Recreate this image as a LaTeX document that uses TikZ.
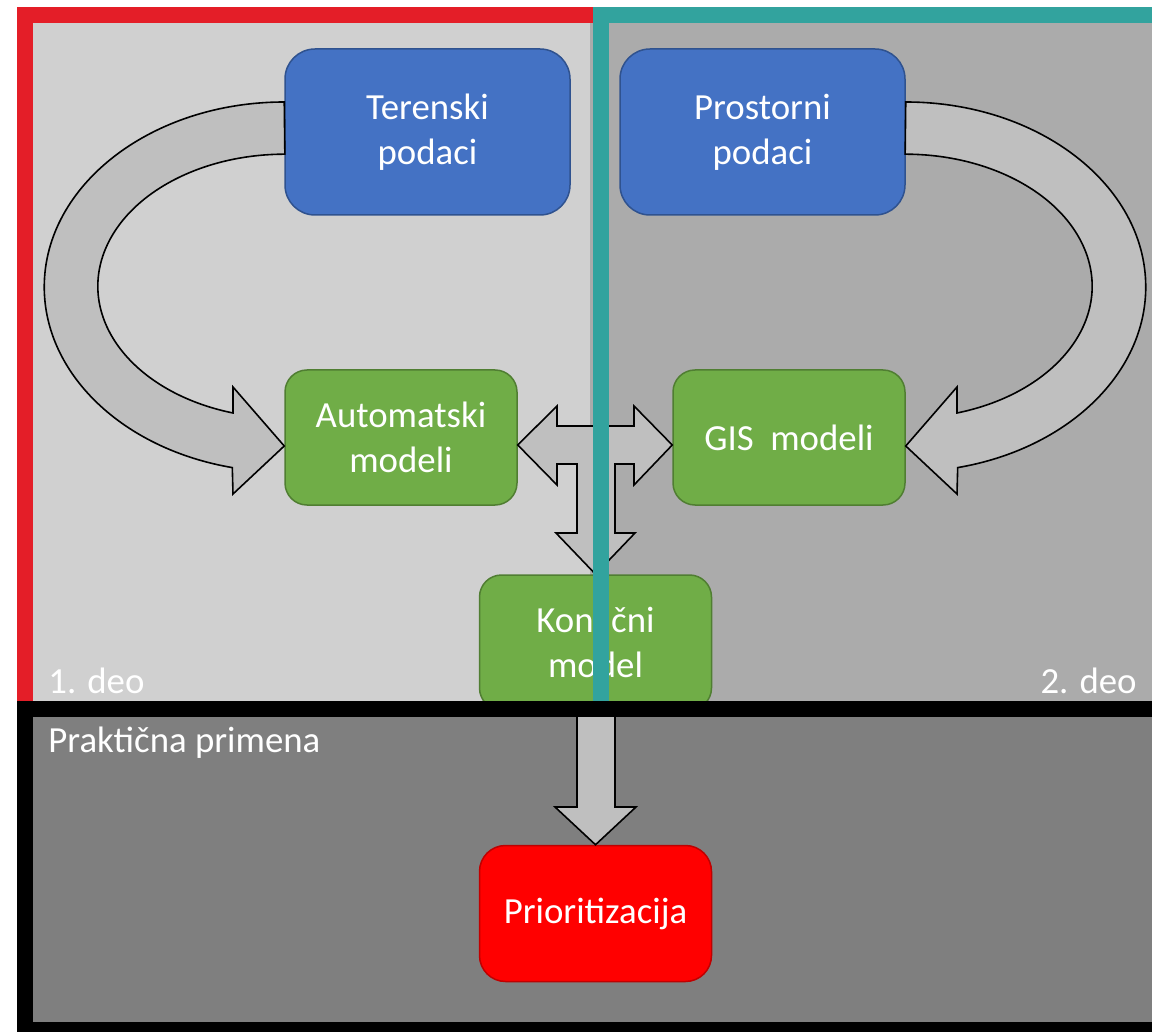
\documentclass[tikz,border=0pt]{standalone}
\usepackage{fontspec}
\setmainfont{Carlito}
\definecolor{panelA}{RGB}{208,208,208}
\definecolor{panelB}{RGB}{171,171,171}
\definecolor{panelC}{RGB}{127,127,127}
\definecolor{arrowgray}{RGB}{191,191,191}
\definecolor{frameRed}{RGB}{228,30,40}
\definecolor{frameTeal}{RGB}{50,163,158}
\definecolor{boxBlue}{RGB}{68,114,196}
\definecolor{boxBlueLine}{RGB}{47,82,143}
\definecolor{boxGreen}{RGB}{112,173,71}
\definecolor{boxGreenLine}{RGB}{80,126,50}
\definecolor{boxRedLine}{RGB}{192,0,0}
\tikzset{
  modelbox/.style={rounded corners=11pt,draw,line width=0.75pt,text=white,align=center,
    font=\fontsize{18.4}{22.5}\selectfont,inner sep=0pt},
  bluebox/.style={modelbox,rounded corners=15pt,fill=boxBlue,draw=boxBlueLine,
    minimum width=142.5pt,minimum height=83pt},
  greenbox/.style={modelbox,fill=boxGreen,draw=boxGreenLine,minimum width=116pt,minimum height=67.5pt},
  redbox/.style={modelbox,rounded corners=13pt,fill=red,draw=boxRedLine,minimum width=116pt,minimum height=68pt},
  blockarrow/.style={fill=arrowgray,draw=black,line width=0.8pt,line join=miter},
  frame/.style={line width=8pt},
  deotext/.style={text=white,font=\fontsize{18.4}{22.5}\selectfont,inner sep=0pt}
}
\begin{document}
\begin{tikzpicture}[x=0.5pt,y=0.5pt]
	\useasboundingbox (0,0) rectangle (1152,-1032);
	% pozadina
	\fill[panelA] (25,-15) rectangle (593,-709);
	\fill[panelB] (590,-15) rectangle (1170,-709);
	\fill[panelC] (25,-709) rectangle (1170,-1040);
	% cvorovi
	\node[bluebox] (teren) at (427.5,-132) {Terenski\\podaci};
	\node[bluebox] (prostor) at (762.5,-132) {Prostorni\\podaci};
	\node[greenbox] (auto) at (401,-437.5) {Automatski\\modeli};
	\node[greenbox] (gis) at (789,-437.5) {GIS~~modeli};
	\node[greenbox] (konacni) at (595.5,-642.5) {Konačni\\model};
	\node[redbox] (prior) at (595.5,-913.5) {Prioritizacija};
	% strelice
	\draw[blockarrow] (teren.west |- 0,-102) arc[start angle=90,end angle=257.5,x radius=240,y radius=185]
		-- (233,-494) -- (auto.west |- 0,-446) -- (233,-387) -- (233,-413)
		arc[start angle=253.9,end angle=90,x radius=187,y radius=132] -- cycle;
	\draw[blockarrow] (prostor.east |- 0,-102) arc[start angle=90,end angle=-77.5,x radius=240,y radius=185]
		-- (957,-494) -- (gis.east |- 0,-446) -- (957,-387) -- (957,-413)
		arc[start angle=-73.9,end angle=90,x radius=187,y radius=132] -- cycle;
	\draw[blockarrow] (auto.east |- 0,-445) -- (557,-406) -- (557,-426) -- (634,-426) -- (634,-406)
		-- (gis.west |- 0,-445) -- (634,-485) -- (634,-464) -- (615,-464) -- (615,-533) -- (635,-533)
		-- (konacni.north) -- (556,-533) -- (577,-533) -- (577,-464) -- (557,-464) -- (557,-485) -- cycle;
	\draw[blockarrow] (577,-706) -- (577,-807) -- (555,-807) -- (prior.north) -- (636,-807)
		-- (615,-807) -- (615,-706) -- cycle;
	% okviri
	\draw[frame,frameRed] (25,-15) rectangle (601,-709);
	\draw[frame,frameTeal] (601,-15) rectangle (1170,-709);
	\draw[frame,black] (25,-709) rectangle (1170,-1030);
	\node[deotext,anchor=base west] (deo1) at (48,-693) {1. deo};
	\node[deotext,anchor=base east] (deo2) at (1137,-693) {2. deo};
	\node[deotext,anchor=base west] (praksa) at (48,-752) {Praktična primena};
\end{tikzpicture}
\end{document}
